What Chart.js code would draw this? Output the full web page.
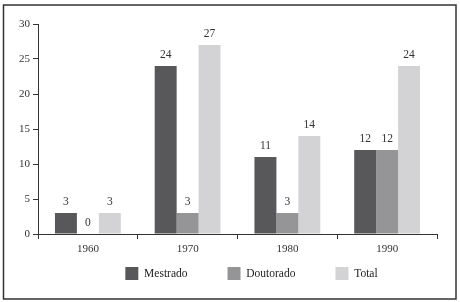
<!DOCTYPE html>
<html>
<head>
<meta charset="utf-8">
<script src="https://cdn.jsdelivr.net/npm/chart.js@4"></script>
<style>
  html, body { margin: 0; padding: 0; background: #fff; }
  #wrap { position: relative; width: 460px; height: 302px; }
</style>
</head>
<body>
<div id="wrap"><canvas id="chart" width="460" height="302"></canvas></div>
<script>
const decades = ['1960', '1970', '1980', '1990'];
const mestrado = [3, 24, 11, 12];
const doutorado = [0, 3, 3, 12];
const total = [3, 27, 14, 24];
const yTicks = [0, 5, 10, 15, 20, 25, 30];

const serif = "'Liberation Serif', 'DejaVu Serif', serif";

// numbers on top of each bar
const valueLabels = {
    id: 'valueLabels',
    afterDatasetsDraw(chart) {
        const ctx = chart.ctx;
        ctx.save();
        ctx.font = '11.5px ' + serif;
        ctx.fillStyle = '#333';
        ctx.textAlign = 'center';
        ctx.textBaseline = 'bottom';
        chart.data.datasets.forEach((ds, i) => {
            chart.getDatasetMeta(i).data.forEach((bar, j) => {
                ctx.fillText(ds.data[j], bar.x, bar.y - 5);
            });
        });
        ctx.restore();
    }
};

// legend keeps its wide spacing but must not eat the plot height
const legendPlace = {
    id: 'legendPlace',
    beforeLayout(chart) {
        const lg = chart.legend;
        if (lg && !lg._wrapped) {
            const fit = lg.fit.bind(lg);
            lg.fit = function () { fit(); this.height = 42; };
            lg._wrapped = true;
        }
    },
    afterLayout(chart) {
        const lg = chart.legend;
        lg.top = 227;
        lg.bottom = 298;
        lg.height = 71;
        lg.left += 33;
        lg.right += 33;
    }
};

// frame round the whole figure
const frame = {
    id: 'frame',
    afterDraw(chart) {
        const ctx = chart.ctx;
        ctx.save();
        ctx.strokeStyle = '#333';
        ctx.lineWidth = 1.5;
        ctx.strokeRect(3.5, 5, 452.5, 294);
        ctx.restore();
    }
};

new Chart(document.getElementById('chart').getContext('2d'), {
    type: 'bar',
    data: {
        labels: decades,
        datasets: [
            { label: 'Mestrado', data: mestrado, backgroundColor: '#58585a' },
            { label: 'Doutorado', data: doutorado, backgroundColor: '#959597' },
            { label: 'Total', data: total, backgroundColor: '#d3d3d5' }
        ]
    },
    options: {
        responsive: false,
        animation: false,
        events: [],
        layout: { padding: { top: 24, right: 23, bottom: 0, left: 0 } },
        datasets: {
            bar: { categoryPercentage: 0.66, barPercentage: 1.0, borderWidth: 0 }
        },
        scales: {
            x: {
                grid: { display: true, drawOnChartArea: false, offset: true, tickLength: 5, color: '#333' },
                border: { color: '#333', width: 1 },
                ticks: { color: '#333', font: { family: serif, size: 11 }, padding: 4 },
                afterFit(scale) { scale.height = 26; }
            },
            y: {
                min: 0,
                max: 30,
                afterBuildTicks(scale) { scale.ticks = yTicks.map(v => ({ value: v })); },
                grid: { display: true, drawOnChartArea: false, tickLength: 5, color: '#333' },
                border: { color: '#333', width: 1 },
                ticks: { color: '#333', font: { family: serif, size: 11 }, padding: 3 },
                afterFit(scale) { scale.width = 38; }
            }
        },
        plugins: {
            legend: {
                position: 'bottom',
                labels: {
                    boxWidth: 13,
                    boxHeight: 13,
                    padding: 40,
                    color: '#222',
                    font: { family: serif, size: 11.5 }
                }
            },
            tooltip: { enabled: false }
        }
    },
    plugins: [valueLabels, legendPlace, frame]
});
</script>
</body>
</html>
